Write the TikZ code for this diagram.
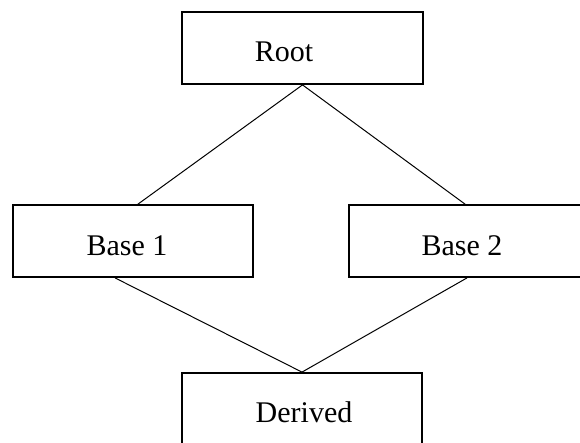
\documentclass[tikz,border=0pt]{standalone}
\usepackage{fontspec}
\setmainfont{Liberation Serif}
\begin{document}
\begin{tikzpicture}[x=1pt,y=1pt,
  box/.style={draw=black, line width=1.8pt, fill=white, minimum width=240pt, minimum height=72pt, inner sep=0pt},
  lbl/.style={anchor=base, inner sep=0pt, font=\fontsize{30}{30}\selectfont},
  conn/.style={draw=black, line width=1pt}]
\useasboundingbox (0,0) rectangle (580,-443);
\clip (0,0) rectangle (580,-443);
\fill[white] (0,0) rectangle (580,-443);
\node[box, minimum width=241pt] (root) at (302.5,-48) {};
\node[box] (base1) at (133,-241) {};
\node[box] (base2) at (469,-241) {};
\node[box] (derived) at (302,-409) {};
\node[lbl] (roott) at (284,-62) {Root};
\node[lbl] (base1t) at (127,-255) {Base 1};
\node[lbl] (base2t) at (462,-255) {Base 2};
\node[lbl] (derivedt) at (304,-422) {Derived};
\draw[conn] (root.south) -- ([xshift=5pt]base1.north);
\draw[conn] (root.south) -- ([xshift=-4pt]base2.north);
\draw[conn] ([xshift=-18pt]base1.south) -- (derived.north);
\draw[conn] ([xshift=-2pt]base2.south) -- (derived.north);
\end{tikzpicture}
\end{document}
